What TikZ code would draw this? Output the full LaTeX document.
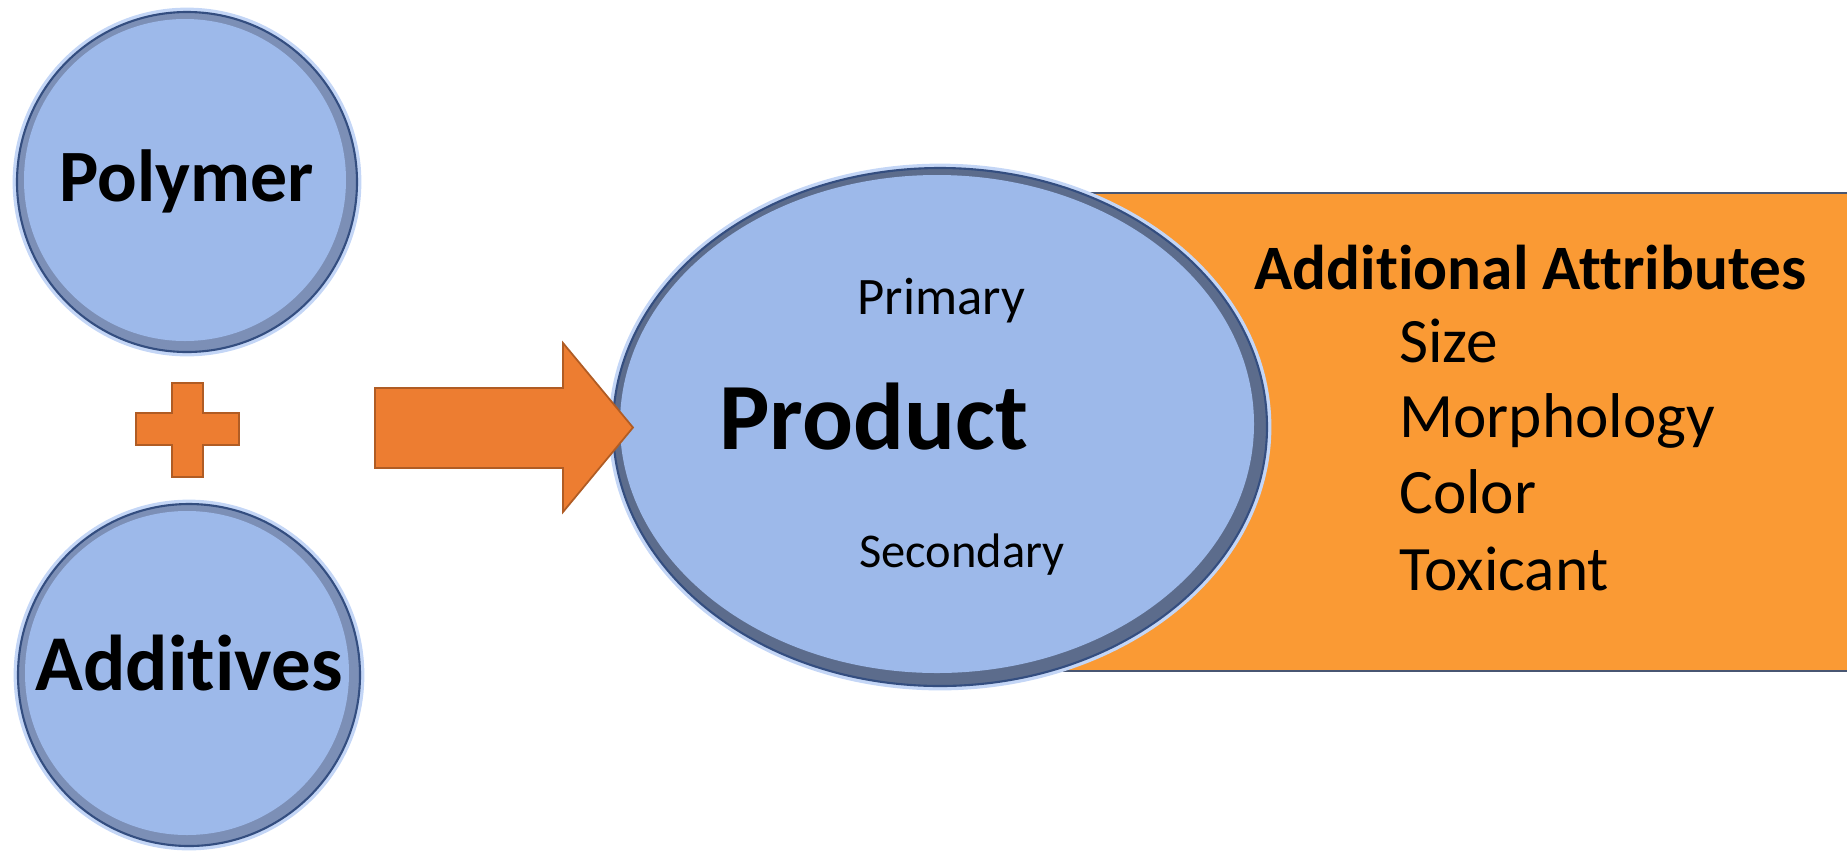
\documentclass[tikz,border=0pt]{standalone}
\usepackage{fontspec}
\setmainfont{Carlito}[Ligatures=NoCommon]
\usetikzlibrary{shapes.geometric}
\definecolor{beadfill}{RGB}{157,185,234}
\definecolor{beadring}{RGB}{124,143,182}
\definecolor{beaddark}{RGB}{92,108,140}
\definecolor{beadedge}{RGB}{52,78,128}
\definecolor{beadglow}{RGB}{196,214,246}
\definecolor{blockorange}{RGB}{237,125,49}
\definecolor{blockedge}{RGB}{176,92,36}
\definecolor{panelorange}{RGB}{250,154,52}
\definecolor{paneledge}{RGB}{72,86,114}
\begin{document}
\begin{tikzpicture}[
    bead/.style={circle, inner sep=0pt, minimum size=#1, fill=beadring,
      draw=beadedge, line width=0.6pt, preaction={draw=beadglow, line width=2.5pt},
      path picture={\fill[beadfill] ([shift={(-0.02,0.02)}]path picture bounding box.center)
        circle (#1/2-0.09cm);},
      font=\fontsize{21pt}{25pt}\selectfont\bfseries, text height=0.9em, text depth=0pt},
    prodbead/.style={ellipse, inner sep=0pt, minimum width=6.54cm, minimum height=5.18cm,
      fill=beaddark, draw=beadedge, line width=0.6pt, preaction={draw=beadglow, line width=2.5pt},
      path picture={\fill[beadfill] ([shift={(-0.03,0.03)}]path picture bounding box.center)
        ellipse (3.17cm and 2.49cm);}},
    block/.style={fill=blockorange, draw=blockedge, line width=0.5pt},
    panel/.style={rectangle, fill=panelorange, draw=paneledge, line width=0.6pt, inner sep=0pt},
    heading/.style={anchor=base west, font=\fontsize{18pt}{21.6pt}\selectfont\bfseries},
    item/.style={anchor=base west, font=\fontsize{18pt}{21.6pt}\selectfont},
    side/.style={anchor=base west, font=\fontsize{#1}{17pt}\selectfont},
  ]
  \useasboundingbox (0,0) rectangle (18.47,8.53);
  \node[panel, anchor=north east, minimum width=8.9cm, minimum height=4.78cm] (panel) at (18.55,6.61) {};
  \node[bead=3.4cm, text height=1.1em] (polymer) at (1.87,6.71) {Polymer};
  \node[bead=3.42cm, font=\fontsize{22.5pt}{26pt}\selectfont\bfseries] (additives) at (1.89,1.78) {Additives};
  \coordinate (plus) at (1.875,4.24);
  \draw[block] (plus) ++(-0.155,0.46) -- ++(0.31,0) -- ++(0,-0.3) -- ++(0.36,0) -- ++(0,-0.32)
    -- ++(-0.36,0) -- ++(0,-0.32) -- ++(-0.31,0) -- ++(0,0.32) -- ++(-0.36,0) -- ++(0,0.32)
    -- ++(0.36,0) -- cycle;
  \node[prodbead] (product) at (9.40,4.26) {};
  \draw[block] (3.75,3.85) -- (5.63,3.85) -- (5.63,3.41) -- (6.33,4.255) -- (5.63,5.10)
    -- (5.63,4.65) -- (3.75,4.65) -- cycle;
  \draw
    (8.45,5.39) node[side=15pt] (primary) {Primary}
    (7.07,4.035) node[anchor=base west, font=\fontsize{27pt}{32pt}\selectfont\bfseries] (prodname) {Product}
    (8.47,2.855) node[side=13.8pt] (secondary) {Secondary};
  \draw
    (12.42,5.64) node[heading] (attrs) {Additional Attributes}
    (13.87,4.91) node[item] (size) {Size}
    (13.87,4.16) node[item] (morph) {Morphology}
    (13.87,3.40) node[item] (color) {Color}
    (13.87,2.63) node[item] (toxic) {Toxicant};
\end{tikzpicture}
\end{document}
